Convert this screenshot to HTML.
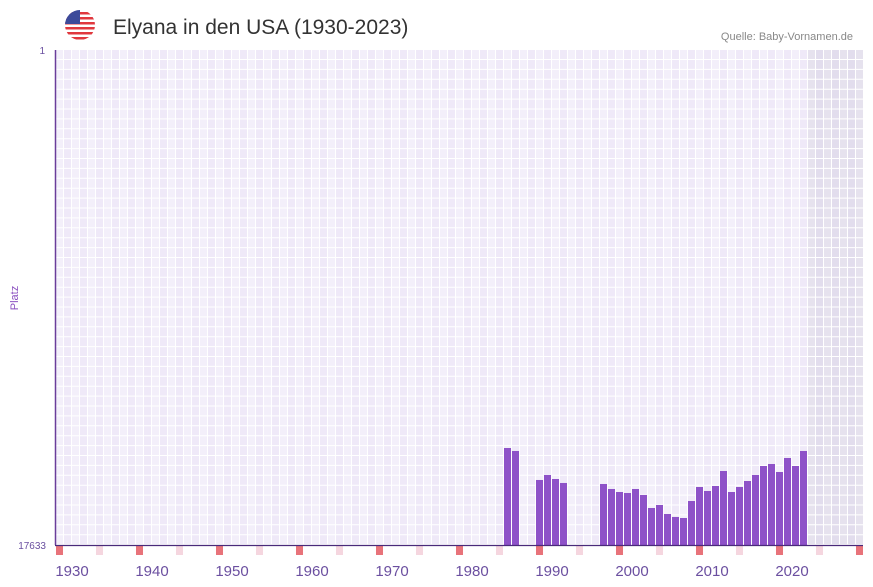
<!DOCTYPE html>
<html><head><meta charset="utf-8"><style>
body{margin:0;background:#fff;font-family:"Liberation Sans",sans-serif;}
svg{display:block}
</style></head><body>
<svg id="c" width="873" height="587" font-family="Liberation Sans, sans-serif">
<defs>
<clipPath id="fc"><circle cx="80" cy="25" r="15"/></clipPath>
</defs>
<g clip-path="url(#fc)">
<rect x="65" y="10" width="30" height="30" fill="#fff"/>
<rect x="65" y="12" width="30" height="2.5" fill="#e0383e"/>
<rect x="65" y="17" width="30" height="2.5" fill="#e0383e"/>
<rect x="65" y="22" width="30" height="2.5" fill="#e0383e"/>
<rect x="65" y="27" width="30" height="2.5" fill="#e0383e"/>
<rect x="65" y="32" width="30" height="2.5" fill="#e0383e"/>
<rect x="65" y="37" width="30" height="2.5" fill="#e0383e"/>
<rect x="65" y="10" width="15" height="14" fill="#3c4a9a"/>
</g>
<text x="113" y="34" font-size="21" fill="#333">Elyana in den USA (1930-2023)</text>
<text x="853" y="40" font-size="11" fill="#888" text-anchor="end">Quelle: Baby-Vornamen.de</text>
<g id="grid"></g>
<g id="bars"></g>
<g id="marks"></g>
<line x1="55.5" y1="50" x2="55.5" y2="545" stroke="#6a3d9a" stroke-width="1.5"/>
<line x1="55" y1="545.5" x2="863" y2="545.5" stroke="#4a2a7a" stroke-width="1.2"/>
<text x="45" y="54" font-size="10" fill="#6a4fa0" text-anchor="end">1</text>
<text x="46" y="549" font-size="10" fill="#6a4fa0" text-anchor="end">17633</text>
<text transform="translate(18,298) rotate(-90)" font-size="11" fill="#8a4fc0" text-anchor="middle">Platz</text>
<g id="xt"></g>
</svg>
<script>
const years=[1984,1985,1988,1989,1990,1991,1996,1997,1998,1999,2000,2001,2002,2003,2004,2005,2006,2007,2008,2009,2010,2011,2012,2013,2014,2015,2016,2017,2018,2019,2020,2021];
const ranks=[14178,14284,15317,15139,15282,15424,15460,15638,15745,15781,15638,15852,16315,16208,16529,16635,16671,16066,15567,15709,15531,14997,15745,15567,15353,15139,14819,14748,15032,14534,14819,14284];
const xTicks=[1930,1940,1950,1960,1970,1980,1990,2000,2010,2020];
const rankMin=1, rankMax=17633, yearStart=1928, lastDataYear=2021;
const NS="http://www.w3.org/2000/svg";
const X0=56, SW=8, Y0=50, Y1=545, XR=863;
const xs=y=>X0+(y-yearStart)*SW;
const ys=r=>Y0+(r-rankMin)/(rankMax-rankMin)*(Y1-Y0);
function mk(t,a,p){const e=document.createElementNS(NS,t);for(const k in a)e.setAttribute(k,a[k]);p.appendChild(e);return e;}
const grid=document.getElementById('grid');
const shadeX=xs(lastDataYear+1);
for(let i=0;X0+i*SW<XR;i++){
  const x=X0+i*SW, w=Math.min(SW,XR-x);
  const grey=x>=shadeX;
  const r=mk('rect',{x:x,y:Y0,width:w,height:Y1-Y0,fill:grey?(i%2?'#e2dded':'#e6e2ee'):(i%2?'#efe9f8':'#f3effa')},grid);
  
  
}
for(let x=X0+SW-0.5;x<XR;x+=SW){const l=mk('line',{x1:x,y1:Y0,x2:x,y2:Y1,stroke:'#fff','stroke-width':1},grid);
  
  }
for(let y=Y0+9.5;y<Y1;y+=9.9){const l=mk('line',{x1:X0,y1:y,x2:XR,y2:y,stroke:'#fff','stroke-width':1},grid);
  
  }
const bars=document.getElementById('bars');
years.forEach((yr,i)=>{const top=ys(ranks[i]);
  const b=mk('rect',{x:xs(yr),y:top,width:SW-1,height:Y1-top,fill:'#8e52c8'},bars);
  
  });
const marks=document.getElementById('marks');
for(let yr=yearStart;xs(yr)<XR;yr++){
  const d=yr%10; if(d!==8&&d!==3)continue;
  const m=mk('rect',{x:xs(yr),y:546,width:SW-1,height:9,fill:d===8?'#e8737a':'#f5d6df'},marks);
  
  
}
const xt=document.getElementById('xt');
xTicks.forEach(t=>{const e=mk('text',{x:xs(t),y:576,'font-size':15,fill:'#6b4fa0','text-anchor':'middle'},xt);e.textContent=t;
  
  });
</script>
</body></html>
